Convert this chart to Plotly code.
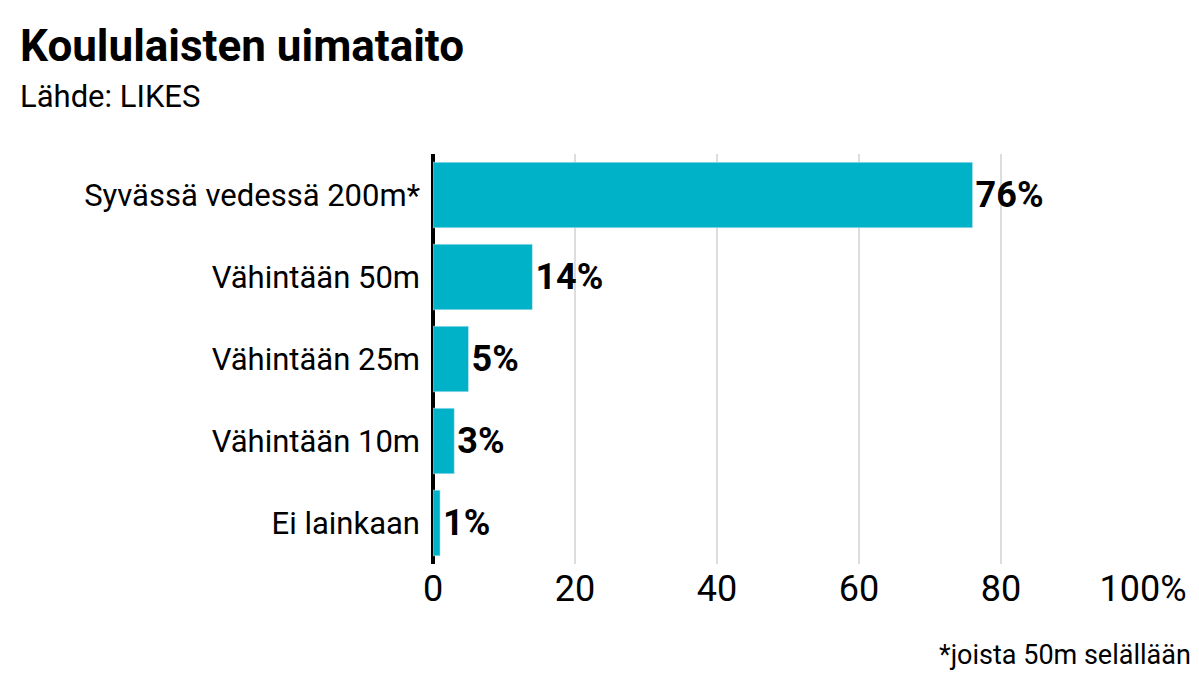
import plotly.graph_objects as go

categories = ["Syvässä vedessä 200m*", "Vähintään 50m", "Vähintään 25m", "Vähintään 10m", "Ei lainkaan"]
values = [76, 14, 5, 3, 1]
tick_vals = [0, 20, 40, 60, 80, 100]
tick_text = ["0", "20", "40", "60", "80", "100%"]

fig = go.Figure(go.Bar(
    x=values, y=categories, orientation="h",
    marker_color="#00b2c8", width=0.8,
    text=[f"<b>{v}%</b>" for v in values], textposition="outside",
    textfont=dict(size=36, color="black", family="Roboto"),
    cliponaxis=False,
))

fig.update_layout(
    width=1199, height=675,
    margin=dict(l=425, r=64, t=146, b=119),
    plot_bgcolor="white", paper_bgcolor="white",
    font=dict(family="Roboto", color="black"),
    showlegend=False,
    xaxis=dict(range=[0, 100], tickvals=tick_vals, ticktext=tick_text,
               tickfont=dict(size=36), showgrid=True, gridcolor="#dddddd",
               gridwidth=1.5, zeroline=True, zerolinecolor="black",
               zerolinewidth=4, ticks=""),
    yaxis=dict(autorange="reversed", tickfont=dict(size=31), ticks="",
               ticklabelstandoff=12),
    annotations=[
        dict(text="<b>Koululaisten uimataito</b>", x=-0.585, y=1.332, xref="paper", yref="paper",
             xanchor="left", yanchor="top", showarrow=False, font=dict(size=44)),
        dict(text="Lähde: LIKES", x=-0.585, y=1.19, xref="paper", yref="paper",
             xanchor="left", yanchor="top", showarrow=False, font=dict(size=31)),
        dict(text="*joista 50m selällään", x=1.07, y=-0.266, xref="paper", yref="paper",
             xanchor="right", yanchor="bottom", showarrow=False, font=dict(size=27)),
    ],
)
fig.write_html("out.html")
